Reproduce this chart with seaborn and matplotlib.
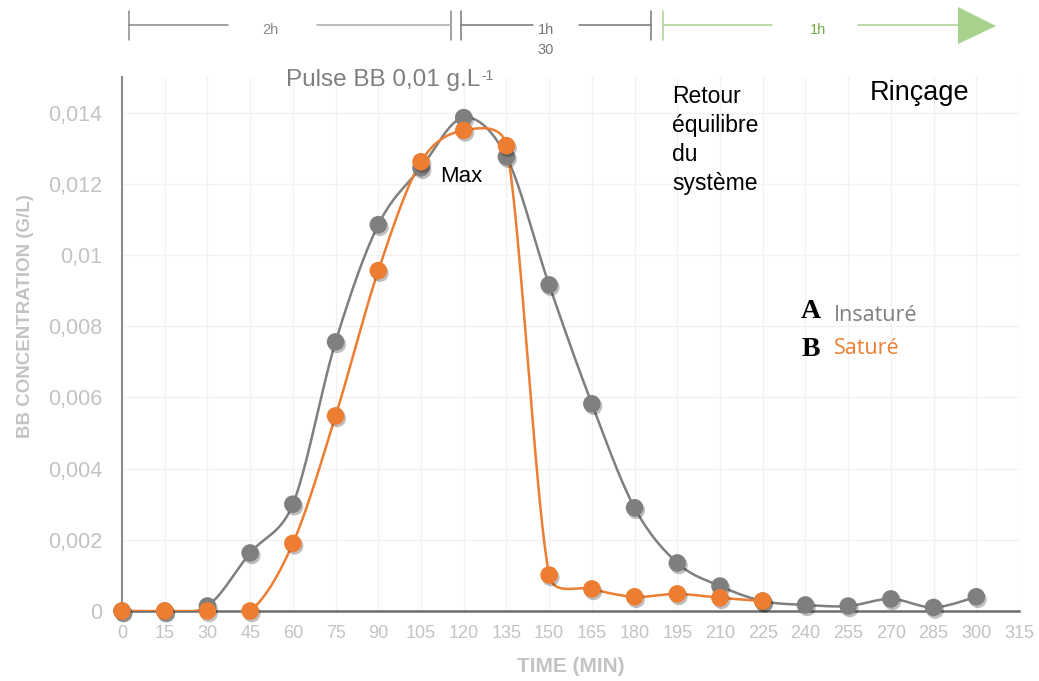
import numpy as np
import pandas as pd
import matplotlib
matplotlib.use('Agg')
import matplotlib.pyplot as plt
import matplotlib.patheffects as pe
from matplotlib.lines import Line2D
from matplotlib.patches import Polygon
import seaborn as sns

sns.set_style('white')
plt.rcParams['font.family'] = ['Liberation Sans', 'DejaVu Sans']

# data
time_insat = [0, 15, 30, 45, 60, 75, 90, 105, 120, 135, 150, 165, 180, 195, 210, 225, 240, 255, 270, 285, 300]
conc_insat = [0, 0, 0.00014, 0.00163, 0.0030, 0.00756, 0.01085, 0.01245, 0.01386, 0.01276, 0.00916,
              0.00582, 0.0029, 0.00135, 0.0007, 0.00028, 0.00017, 0.00014, 0.00034, 0.0001, 0.0004]
time_sat = [0, 15, 30, 45, 60, 75, 90, 105, 120, 135, 150, 165, 180, 195, 210, 225]
conc_sat = [0, 0, 0, 0, 0.0019, 0.00548, 0.00956, 0.01262, 0.0135, 0.01307, 0.00101,
            0.00062, 0.0004, 0.00048, 0.00037, 0.00028]

x_ticks = list(range(0, 316, 15))
y_ticks = [0, 0.002, 0.004, 0.006, 0.008, 0.01, 0.012, 0.014]

GRAY = '#7f7f7f'
ORANGE = '#ed7d31'
GREEN_LINE = '#a9d18e'
GREEN_TXT = '#70ad47'
LIGHT = '#c3c3c3'

W, H = 1039, 681


def fx(x):
    return x / W


def fy(y):
    return 1 - y / H


def smooth(x, y, n=40, kx=2.85, ky=35571.0):
    # Excel-like smoothed line: Bezier with Catmull-Rom tangents, clamped by chord length
    p = np.column_stack([np.asarray(x, float) * kx, np.asarray(y, float) * ky])
    m = len(p)
    fwd = np.zeros_like(p)
    bwd = np.zeros_like(p)
    for i in range(m):
        a = p[max(i - 1, 0)]
        b = p[min(i + 1, m - 1)]
        tan = (b - a) / 6
        ln = np.linalg.norm(tan) + 1e-9
        d0 = np.linalg.norm(p[i] - a)
        d1 = np.linalg.norm(b - p[i])
        fwd[i] = p[i] + tan * min(1.0, 0.5 * d1 / ln)
        bwd[i] = p[i] - tan * min(1.0, 0.5 * d0 / ln)
    t = np.linspace(0, 1, n)[:, None]
    out = []
    for i in range(m - 1):
        p0, c1, c2, p1 = p[i], fwd[i], bwd[i + 1], p[i + 1]
        out.append((1 - t) ** 3 * p0 + 3 * (1 - t) ** 2 * t * c1 + 3 * (1 - t) * t ** 2 * c2 + t ** 3 * p1)
    out = np.vstack(out)
    return out[:, 0] / kx, out[:, 1] / ky


fig = plt.figure(figsize=(W / 100, H / 100), dpi=100)
ax = fig.add_axes([fx(122), fy(611), (1019 - 122) / W, (611 - 77) / H])

shadow = [pe.SimplePatchShadow(offset=(1.2, -1.8), shadow_rgbFace='k', alpha=0.25), pe.Normal()]

for t, c, col in [(time_insat, conc_insat, GRAY), (time_sat, conc_sat, ORANGE)]:
    sx, sy = smooth(t, c)
    sns.lineplot(x=sx, y=sy, sort=False, estimator=None, color=col, lw=1.8, ax=ax, zorder=3)

for t, c, col, z in [(time_insat, conc_insat, GRAY, 4), (time_sat, conc_sat, ORANGE, 5)]:
    sns.scatterplot(x=t, y=c, color=col, s=160, edgecolor='none', ax=ax, zorder=z,
                    clip_on=False, path_effects=shadow)

ax.set_xlim(0, 315)
ax.set_ylim(0, 0.015)
ax.set_xticks(x_ticks)
ax.set_yticks(y_ticks)
ax.set_yticklabels([f'{v:g}'.replace('.', ',') for v in y_ticks])
ax.tick_params(axis='x', length=0, labelsize=13, labelcolor=LIGHT, pad=10)
ax.tick_params(axis='y', length=0, labelsize=15.5, labelcolor=LIGHT, pad=14)
for lab in ax.get_xticklabels():
    lab.set_family(['Liberation Sans Narrow', 'Liberation Sans'])
ax.grid(True, color='#f2f2f2', lw=1)
ax.set_axisbelow(True)
for s in ['top', 'right']:
    ax.spines[s].set_visible(False)
ax.spines['left'].set_color('#8c8c8c')
ax.spines['left'].set_linewidth(1.5)
ax.spines['bottom'].set_color('#6e6e6e')
ax.spines['bottom'].set_linewidth(1.8)

ax.set_xlabel('TIME (MIN)', fontsize=15, fontweight='bold', color=LIGHT, labelpad=11,
              family=['Liberation Sans Narrow', 'Liberation Sans'])
ax.set_ylabel('BB CONCENTRATION (G/L)', fontsize=13.5, fontweight='bold', color=LIGHT,
              family=['Liberation Sans Narrow', 'Liberation Sans'])
ax.yaxis.set_label_coords(-0.098, 0.552)

# annotations
pulse = fig.text(fx(286), fy(80), 'Pulse BB 0,01 g.L', fontsize=17.5, color=GRAY, ha='left', va='center')
ax.annotate('-1', xy=(1, 1), xycoords=pulse, xytext=(1, 0), textcoords='offset points',
            fontsize=10, color=GRAY, ha='left', va='top', annotation_clip=False)
fig.text(fx(461), fy(176), 'Max', fontsize=16, color='black', ha='center', va='center')
fig.text(fx(672), fy(85), 'Retour\néquilibre\ndu\nsystème', fontsize=16.5, color='black',
         ha='left', va='top', linespacing=1.33)
fig.text(fx(920), fy(93), 'Rinçage', fontsize=19.5, color='black', ha='center', va='center')

fig.text(fx(811), fy(312), 'A', fontsize=20, fontweight='bold', family='Liberation Serif',
         color='black', ha='center', va='center')
fig.text(fx(811), fy(350), 'B', fontsize=20, fontweight='bold', family='Liberation Serif',
         color='black', ha='center', va='center')
fig.text(fx(834), fy(315), 'Insaturé', fontsize=15.5, family='Open Sans', color=GRAY, ha='left', va='center')
fig.text(fx(834), fy(348), 'Saturé', fontsize=15.5, family='Open Sans', color=ORANGE, ha='left', va='center')


# timeline at the top
def hline(x0, x1, col):
    fig.add_artist(Line2D([fx(x0), fx(x1)], [fy(25), fy(25)], color=col, lw=1.1))


def vtick(x, col):
    fig.add_artist(Line2D([fx(x), fx(x)], [fy(11), fy(40)], color=col, lw=1.1))


vtick(129, '#888888')
vtick(451, '#888888')
hline(129, 228, '#888888')
hline(317, 451, '#aaaaaa')
fig.text(fx(270), fy(30), '2h', fontsize=10.5, color='#888888', ha='center', va='center')

vtick(461, '#777777')
vtick(651, '#777777')
hline(461, 533, '#777777')
hline(579, 651, '#777777')
fig.text(fx(546), fy(30), '1h', fontsize=10.5, color='#777777', ha='center', va='center')
fig.text(fx(546), fy(50), '30', fontsize=10.5, color='#777777', ha='center', va='center')

vtick(663, GREEN_LINE)
hline(663, 772, GREEN_LINE)
hline(858, 965, GREEN_LINE)
fig.text(fx(818), fy(30), '1h', fontsize=10.5, color=GREEN_TXT, ha='center', va='center')
fig.add_artist(Polygon([[fx(958), fy(7)], [fx(996), fy(26)], [fx(958), fy(44)]],
                       closed=True, facecolor=GREEN_LINE, edgecolor='none'))

fig.savefig('out.png', dpi=100)
